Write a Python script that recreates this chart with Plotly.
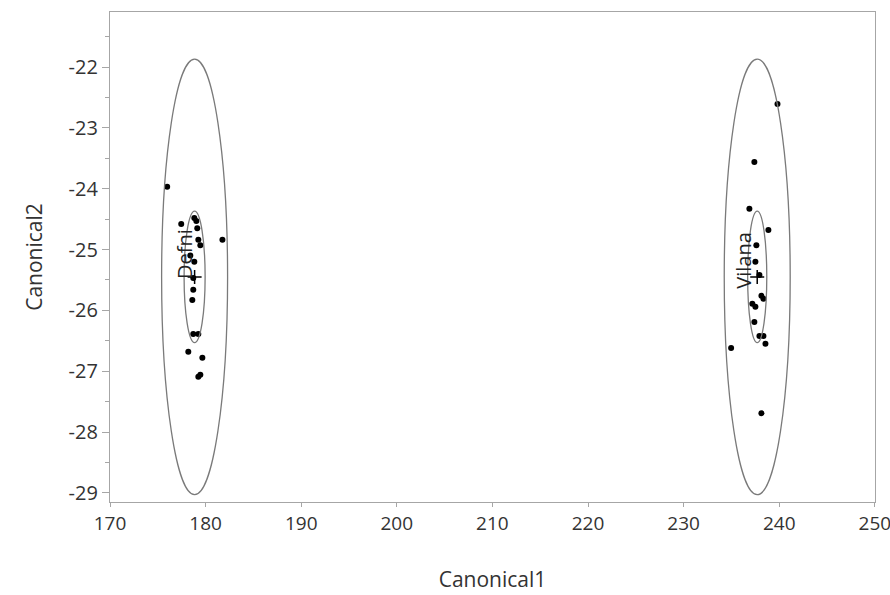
import plotly.graph_objects as go

# ---- data ----
defni_x = [175.98, 177.45, 178.82, 179.03, 179.13, 179.24, 179.45, 181.76, 178.40, 178.82,
           178.71, 178.71, 178.61, 178.71, 179.24, 178.19, 179.66, 179.45, 179.24]
defni_y = [-23.97, -24.58, -24.48, -24.53, -24.65, -24.84, -24.93, -24.84, -25.10, -25.20,
           -25.47, -25.66, -25.83, -26.39, -26.39, -26.68, -26.78, -27.06, -27.09]
vilana_x = [239.82, 237.40, 236.88, 238.87, 237.61, 237.51, 237.93, 238.14, 238.35, 237.19,
            237.51, 237.40, 237.93, 238.35, 238.56, 234.97, 238.14]
vilana_y = [-22.61, -23.56, -24.33, -24.68, -24.93, -25.20, -25.42, -25.76, -25.81, -25.89,
            -25.94, -26.19, -26.42, -26.42, -26.55, -26.62, -27.69]

groups = ["Defni", "Vilana"]
group_mean_x = [178.85, 237.7]
group_mean_y = [-25.45, -25.45]
outer_rx = [3.45, 3.45]
outer_ry = [3.58, 3.58]
inner_rx = [1.1, 1.0]
inner_ry = [1.08, 1.08]
label_x = [177.8, 236.3]
label_y = [-25.08, -25.17]

x_ticks = [170, 180, 190, 200, 210, 220, 230, 240, 250]
y_ticks = [-22, -23, -24, -25, -26, -27, -28, -29]

fig = go.Figure()

fig.add_trace(go.Scatter(x=defni_x, y=defni_y, mode="markers",
                         marker=dict(color="black", size=6), showlegend=False))
fig.add_trace(go.Scatter(x=vilana_x, y=vilana_y, mode="markers",
                         marker=dict(color="black", size=6), showlegend=False))
fig.add_trace(go.Scatter(x=group_mean_x, y=group_mean_y, mode="markers",
                         marker=dict(symbol="cross-thin", size=10,
                                     line=dict(color="black", width=1.5)),
                         showlegend=False))

for i in range(len(groups)):
    for rx, ry in ((outer_rx[i], outer_ry[i]), (inner_rx[i], inner_ry[i])):
        fig.add_shape(type="circle", xref="x", yref="y",
                      x0=group_mean_x[i] - rx, x1=group_mean_x[i] + rx,
                      y0=group_mean_y[i] - ry, y1=group_mean_y[i] + ry,
                      line=dict(color="#7a7a7a", width=1.3))
    fig.add_annotation(x=label_x[i], y=label_y[i], text=groups[i], showarrow=False,
                       textangle=-90, font=dict(family="Open Sans", size=20, color="#222"))

axis_common = dict(showgrid=False, zeroline=False, showline=True, linecolor="#a6a6a6",
                   linewidth=1.3, mirror=True, ticks="outside", automargin=False,
                   ticklabeloverflow="allow", tickcolor="#a6a6a6")

fig.update_xaxes(range=[170, 250.02], tickvals=x_ticks, ticktext=[str(v) for v in x_ticks],
                 ticklen=4, tickfont=dict(family="Open Sans", size=19, color="#333"),
                 title=dict(text="Canonical1", font=dict(family="Open Sans", size=21, color="#333"),
                            standoff=37),
                 **axis_common)
fig.update_yaxes(range=[-29.15, -21.096], tickvals=y_ticks, ticktext=[str(v) for v in y_ticks],
                 ticklen=7, tickfont=dict(family="Open Sans", size=20, color="#333"),
                 minor=dict(dtick=0.5, tick0=-22, ticks="outside", ticklen=4, tickcolor="#a6a6a6"),
                 title=dict(text="Canonical2", font=dict(family="Open Sans", size=21, color="#333"),
                            standoff=20),
                 **axis_common)

fig.update_layout(width=890, height=595, plot_bgcolor="white", paper_bgcolor="white",
                  margin=dict(l=110, r=15, t=12, b=93))

fig.write_html("out.html", config={"displayModeBar": False},
               post_script="document.body.style.margin='0';document.body.style.overflow='hidden';")
